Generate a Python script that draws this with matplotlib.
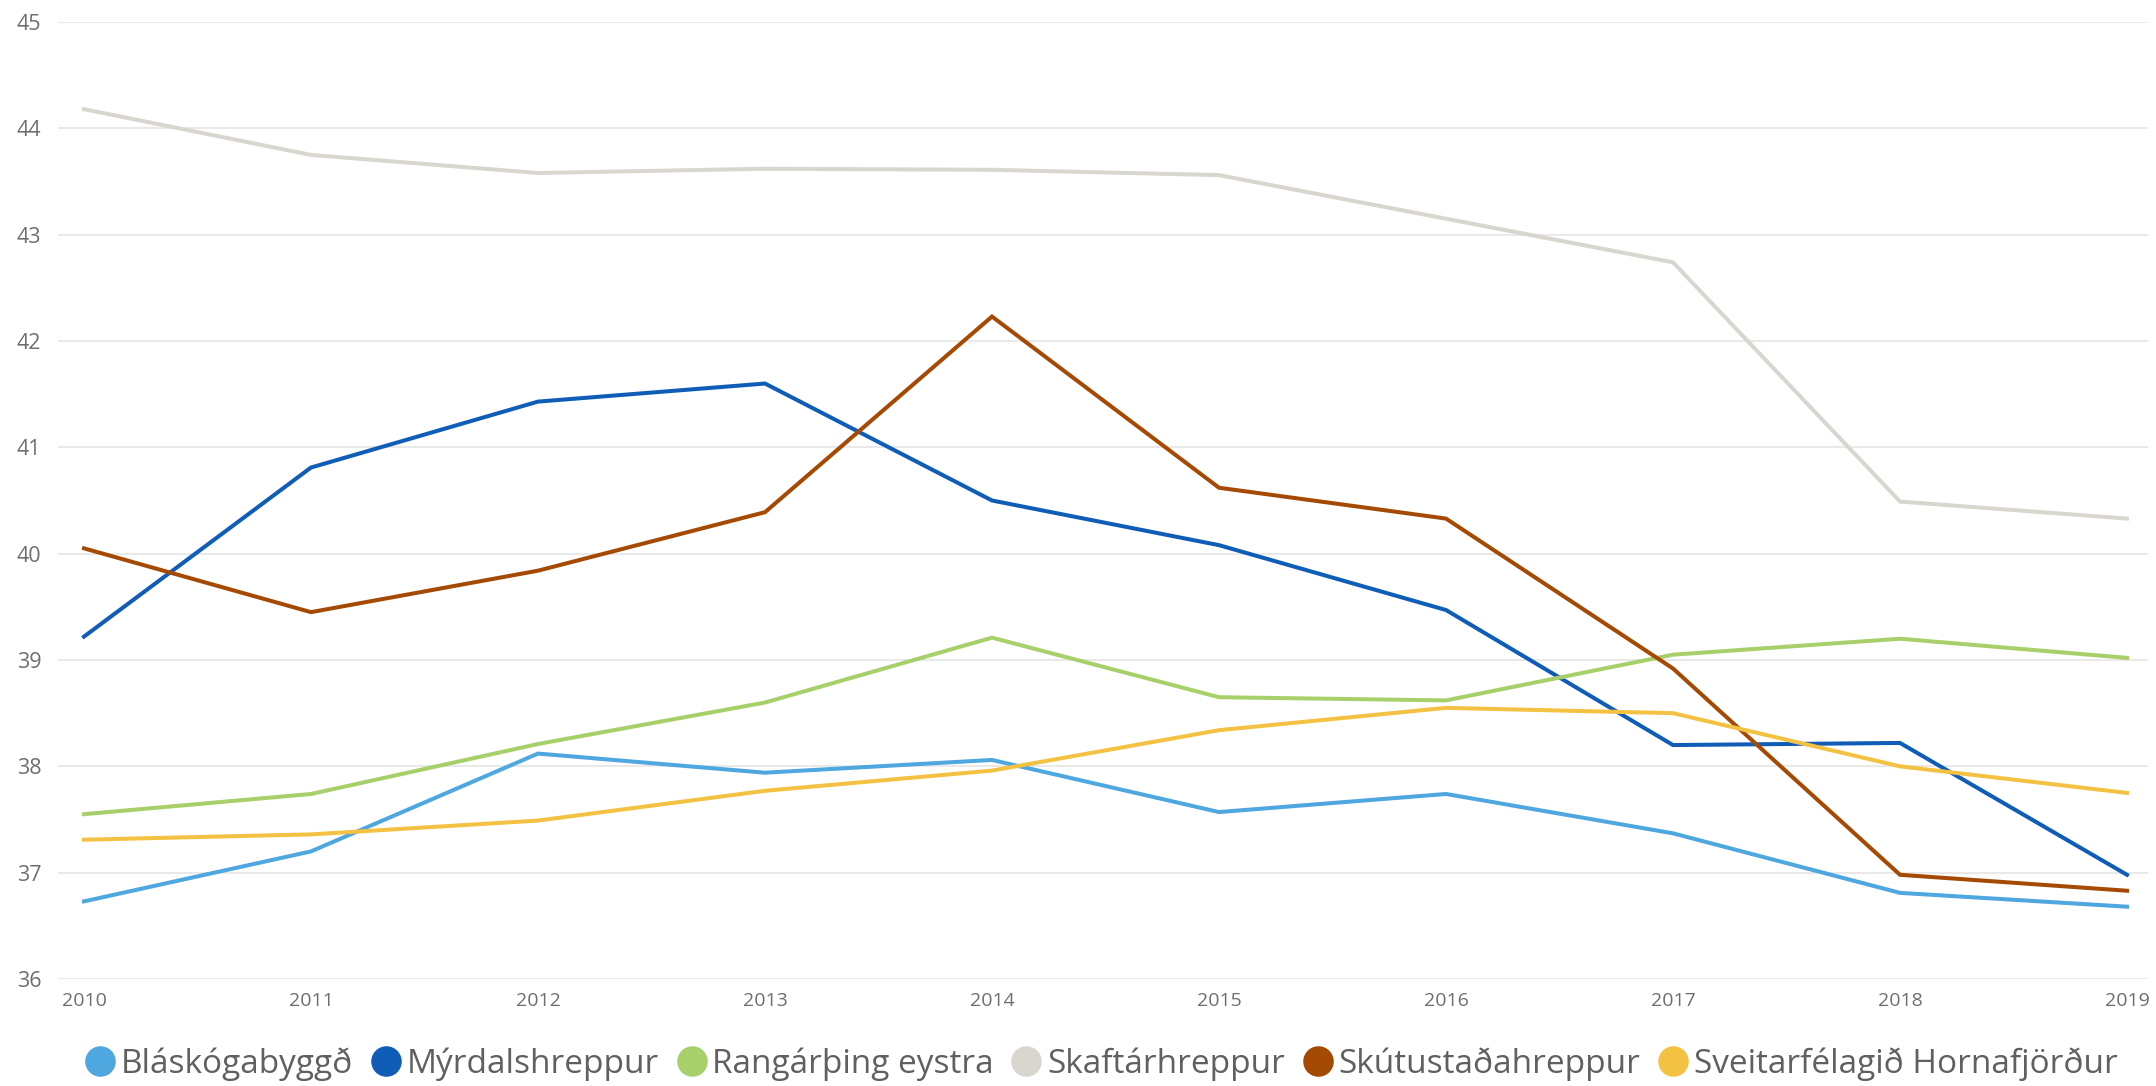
import matplotlib
matplotlib.use("Agg")
import matplotlib.pyplot as plt
from matplotlib.lines import Line2D

years = [2010, 2011, 2012, 2013, 2014, 2015, 2016, 2017, 2018, 2019]
series_names = ["Bláskógabyggð", "Mýrdalshreppur", "Rangárþing eystra",
                "Skaftárhreppur", "Skútustaðahreppur", "Sveitarfélagið Hornafjörður"]
blaskogabyggd = [36.73, 37.20, 38.12, 37.94, 38.06, 37.57, 37.74, 37.37, 36.81, 36.68]
myrdalshreppur = [39.22, 40.81, 41.43, 41.60, 40.50, 40.08, 39.47, 38.20, 38.22, 36.98]
rangarthing = [37.55, 37.74, 38.21, 38.60, 39.21, 38.65, 38.62, 39.05, 39.20, 39.02]
skaftarhreppur = [44.18, 43.75, 43.58, 43.62, 43.61, 43.56, 43.15, 42.74, 40.49, 40.33]
skutustadahreppur = [40.05, 39.45, 39.84, 40.39, 42.23, 40.62, 40.33, 38.92, 36.98, 36.83]
hornafjordur = [37.31, 37.36, 37.49, 37.77, 37.96, 38.34, 38.55, 38.50, 38.00, 37.75]
y_ticks = [36, 37, 38, 39, 40, 41, 42, 43, 44, 45]

colors = ["#4EA7DF", "#0F5DB6", "#A8D06A", "#D9D6CF", "#A54A04", "#F4C242"]
all_series = [blaskogabyggd, myrdalshreppur, rangarthing, skaftarhreppur,
              skutustadahreppur, hornafjordur]

plt.rcParams['font.family'] = ['Open Sans', 'DejaVu Sans']

W, H = 2156, 1086
fig = plt.figure(figsize=(W / 100, H / 100), dpi=100)
ax = fig.add_axes([58 / W, 1 - 979 / H, (2148 - 58) / W, (979 - 22) / H])

for name, vals, c in zip(series_names, all_series, colors):
    ax.plot(years, vals, color=c, lw=2.9, label=name, solid_joinstyle='miter', zorder=3)

ax.set_ylim(36, 45)
ax.set_xlim(2010 - 26 / 227, 2019 + 21 / 227)
ax.set_yticks(y_ticks)
ax.set_yticklabels([str(t) for t in y_ticks])
ax.set_xticks(years)
ax.set_xticklabels([str(y) for y in years])
ax.grid(axis='y', color='#E9E9E9', lw=1.4, zorder=0)
ax.grid(axis='x', visible=False)
for s in ax.spines.values():
    s.set_visible(False)
ax.tick_params(axis='both', length=0, colors='#6E6E6E')
ax.tick_params(axis='y', labelsize=15.5, pad=12)
ax.tick_params(axis='x', labelsize=14, pad=9)

handles = [Line2D([], [], marker='o', ls='none', markersize=22, color=c,
                  markeredgewidth=0) for c in colors]
leg = fig.legend(handles, series_names, loc='center', ncol=6,
                 bbox_to_anchor=(1101 / W, 1 - 1064 / H), frameon=False,
                 fontsize=24, handletextpad=0.15, columnspacing=0.5,
                 handlelength=0.95, borderaxespad=0, borderpad=0)
for t in leg.get_texts():
    t.set_color('#606060')

fig.savefig("out.png", dpi=100, facecolor='white')
